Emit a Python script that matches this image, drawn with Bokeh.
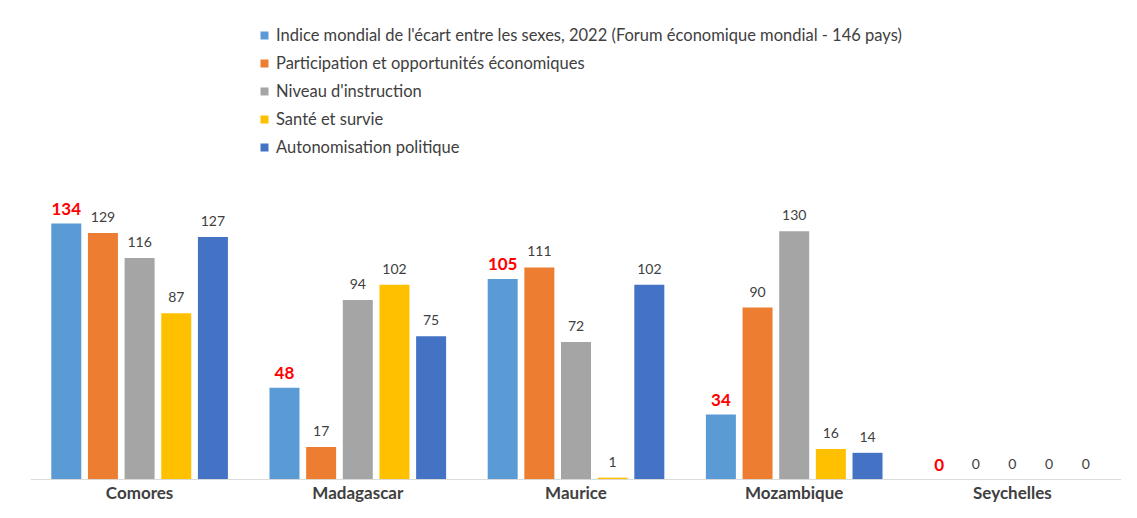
from bokeh.plotting import figure
from bokeh.models import ColumnDataSource, FactorRange, Legend, LegendItem, Span
from bokeh.transform import dodge
from bokeh.core.properties import value
from bokeh.embed import file_html
from bokeh.resources import INLINE

countries = ["Comores", "Madagascar", "Maurice", "Mozambique", "Seychelles"]
series_names = [
    "Indice mondial de l'écart entre les sexes, 2022 (Forum économique mondial - 146 pays)",
    "Participation et opportunités économiques",
    "Niveau d'instruction",
    "Santé et survie",
    "Autonomisation politique",
]
indice = [134, 48, 105, 34, 0]
participation = [129, 17, 111, 90, 0]
instruction = [116, 94, 72, 130, 0]
sante = [87, 102, 1, 16, 0]
politique = [127, 75, 102, 14, 0]
colors = ["#5B9BD5", "#ED7D31", "#A5A5A5", "#FFC000", "#4472C4"]

FONT = "Lato"

p = figure(x_range=FactorRange(factors=countries, range_padding=0), y_range=(-12.0, 250.7),
           width=1121, height=502, output_backend="svg", toolbar_location=None,
           min_border_left=30, min_border_right=0, min_border_top=0, min_border_bottom=0)

values_list = [indice, participation, instruction, sante, politique]
offsets = [-0.336, -0.168, 0.0, 0.168, 0.336]
items = []
for i, (vals, col, off, name) in enumerate(zip(values_list, colors, offsets, series_names)):
    src = ColumnDataSource(dict(x=countries, top=vals, lab=[str(v) for v in vals]))
    r = p.vbar(x=dodge("x", off, range=p.x_range), top="top", width=0.1375, source=src,
               fill_color=col, line_color=None)
    items.append(LegendItem(label=name, renderers=[r]))
    if i == 0:
        p.text(x=dodge("x", off, range=p.x_range), y="top", text="lab", source=src,
               text_align="center", text_baseline="middle", y_offset=-15,
               text_font=value(FONT), text_font_size="17px", text_font_style="bold",
               text_color="#FF0000")
    else:
        p.text(x=dodge("x", off, range=p.x_range), y="top", text="lab", source=src,
               text_align="center", text_baseline="middle", y_offset=-16,
               text_font=value(FONT), text_font_size="14px", text_color="#404040")

# baseline and category labels
p.add_layout(Span(location=0, dimension="width", line_color="#D9D9D9", line_width=1))
cat_src = ColumnDataSource(dict(x=countries, y=[0] * len(countries)))
p.text(x="x", y="y", text="x", source=cat_src, text_align="center", text_baseline="middle",
       y_offset=13, text_font=value(FONT), text_font_size="17px", text_font_style="bold",
       text_color="#404040")

legend = Legend(items=items, location=(229, 345), orientation="vertical",
                glyph_width=10, glyph_height=10, label_height=20, spacing=8,
                padding=0, margin=0, border_line_color=None, background_fill_alpha=0,
                label_text_font=FONT, label_text_font_size="16.5px", label_text_color="#404040",
                label_standoff=7)
p.add_layout(legend, "center")

p.xaxis.visible = False
p.yaxis.visible = False
p.xgrid.grid_line_color = None
p.ygrid.grid_line_color = None
p.outline_line_color = None

open("out.html", "w").write(file_html(p, INLINE))
